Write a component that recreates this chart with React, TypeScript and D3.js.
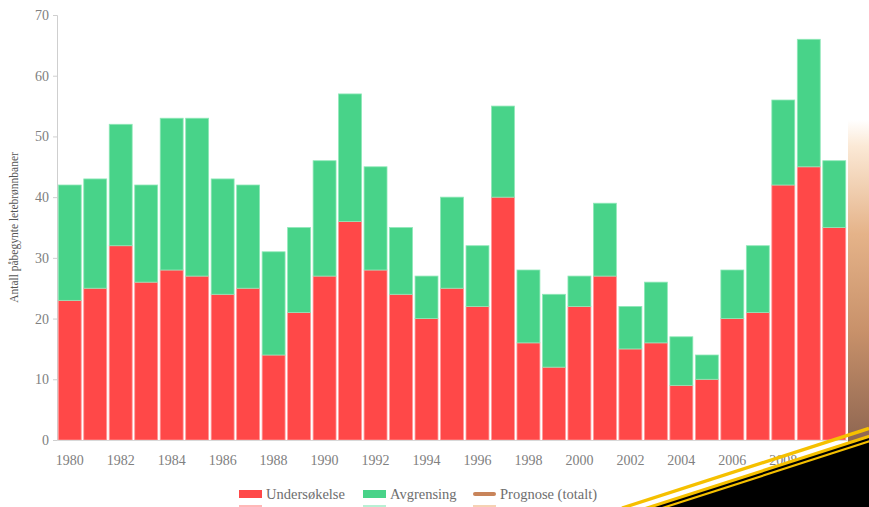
import React, { useEffect, useRef } from 'react';
import * as d3 from 'd3';

const years = d3.range(1980, 2011).map(String);
const undersokelse = [23, 25, 32, 26, 28, 27, 24, 25, 14, 21, 27, 36, 28, 24, 20, 25, 22, 40, 16, 12, 22, 27, 15, 16, 9, 10, 20, 21, 42, 45, 35];
const totalt = [42, 43, 52, 42, 53, 53, 43, 42, 31, 35, 46, 57, 45, 35, 27, 40, 32, 55, 28, 24, 27, 39, 22, 26, 17, 14, 28, 32, 56, 66, 46];
const yTicks = [0, 10, 20, 30, 40, 50, 60, 70];
const legendItems = ['Undersøkelse', 'Avgrensing', 'Prognose (totalt)'];

const W = 869;
const H = 507;
const SERIF = '"Liberation Serif", "Times New Roman", "DejaVu Serif", serif';

const App: React.FC = () => {
  const svgRef = useRef<SVGSVGElement>(null);

  useEffect(() => {
    if (!svgRef.current) return;
    const svg = d3.select(svgRef.current);
    svg.selectAll('*').remove();

    const margin = { top: 15, right: 22, bottom: 67, left: 57 };
    const innerW = W - margin.left - margin.right;
    const innerH = H - margin.top - margin.bottom;

    const defs = svg.append('defs');
    const grad = defs.append('linearGradient')
      .attr('id', 'prog').attr('x1', 0).attr('y1', 0).attr('x2', 0).attr('y2', 1);
    [['0%', '#ffffff'], ['8%', '#fbe9d6'], ['35%', '#e5b389'], ['65%', '#c8916a'], ['100%', '#8c6450']]
      .forEach(([o, c]) => grad.append('stop').attr('offset', o).attr('stop-color', c));

    // prognose strip at the right edge
    svg.append('rect')
      .attr('x', margin.left + innerW + 1).attr('y', 120)
      .attr('width', W - margin.left - innerW - 1).attr('height', margin.top + innerH - 115)
      .attr('fill', 'url(#prog)');

    const g = svg.append('g').attr('transform', `translate(${margin.left},${margin.top})`);

    const x = d3.scaleBand().domain(years).range([0, innerW]).paddingInner(0.1).paddingOuter(0.05);
    const y = d3.scaleLinear().domain([0, 70]).range([innerH, 0]);

    // y axis
    const yAxis = g.append('g').call(d3.axisLeft(y).tickValues(yTicks).tickSize(4).tickPadding(4));
    yAxis.attr('font-family', null);
    yAxis.selectAll('path, line').attr('stroke', '#cfcfcf');
    yAxis.selectAll('text')
      .style('font-family', SERIF).style('font-size', '14px').attr('fill', '#808080');

    // bars
    const bars = g.append('g');
    bars.selectAll('rect.u').data(years).enter().append('rect')
      .attr('x', d => x(d) ?? 0)
      .attr('width', x.bandwidth())
      .attr('y', (d, i) => y(undersokelse[i]))
      .attr('height', (d, i) => innerH - y(undersokelse[i]))
      .attr('fill', '#ff4848').attr('stroke', '#ff9a9a').attr('stroke-width', 0.8);
    bars.selectAll('rect.a').data(years).enter().append('rect')
      .attr('x', d => x(d) ?? 0)
      .attr('width', x.bandwidth())
      .attr('y', (d, i) => y(totalt[i]))
      .attr('height', (d, i) => y(undersokelse[i]) - y(totalt[i]))
      .attr('fill', '#48d389').attr('stroke', '#90e8b8').attr('stroke-width', 0.8);

    // x axis
    const xAxis = g.append('g').attr('transform', `translate(0,${innerH})`)
      .call(d3.axisBottom(x).tickValues(years.filter((d, i) => i % 2 === 0)).tickSize(0).tickPadding(15));
    xAxis.attr('font-family', null);
    xAxis.select('.domain').attr('stroke', '#d8d8d8');
    xAxis.selectAll('text')
      .style('font-family', SERIF).style('font-size', '14px').attr('fill', '#808080');

    // y label
    svg.append('text')
      .attr('transform', `translate(18,${margin.top + innerH / 2}) rotate(-90)`)
      .attr('text-anchor', 'middle')
      .style('font-family', SERIF).style('font-size', '11.5px').attr('fill', '#555')
      .text('Antall påbegynte letebrønnbaner');

    // legend
    const legX = [239, 363, 473];
    const legColors = ['#ff4848', '#48d389', '#c8845a'];
    const fadedColors = ['#ffb8b8', '#b8f0d4', '#f6d2b4'];
    legendItems.forEach((name, i) => {
      const lg = svg.append('g').attr('transform', `translate(${legX[i]},490)`);
      if (i === 2) {
        lg.append('rect').attr('x', 0).attr('y', 2).attr('width', 23).attr('height', 4).attr('rx', 2).attr('fill', legColors[i]);
      } else {
        lg.append('rect').attr('x', 0).attr('y', 0).attr('width', 23).attr('height', 8).attr('fill', legColors[i]);
      }
      lg.append('text').attr('x', 27).attr('y', 9)
        .style('font-family', SERIF).style('font-size', '14.5px').attr('fill', '#6e6e6e')
        .text(name);
      lg.append('rect').attr('x', 0).attr('y', 15).attr('width', 23).attr('height', 6).attr('fill', fadedColors[i]);
    });

    // decorative corner stripes
    const slope = 0.322;
    const band = (x0: number, fill: string) => {
      svg.append('polygon')
        .attr('points', `${x0},${H} ${W},${H - slope * (W - x0)} ${W},${H}`)
        .attr('fill', fill);
    };
    svg.append('line')
      .attr('x1', 622).attr('y1', H + 1).attr('x2', W).attr('y2', H + 1 - slope * (W - 622))
      .attr('stroke', '#f5c000').attr('stroke-width', 3.4);
    band(645, '#f5c000');
    band(655, '#000');
    band(662, '#f5c000');
    band(669, '#000');
  }, []);

  return (
    <div style={{ position: 'absolute', left: 0, top: 0, width: W, height: H, background: '#fff' }}>
      <svg ref={svgRef} width={W} height={H} style={{ display: 'block' }} />
    </div>
  );
};

export default App;
